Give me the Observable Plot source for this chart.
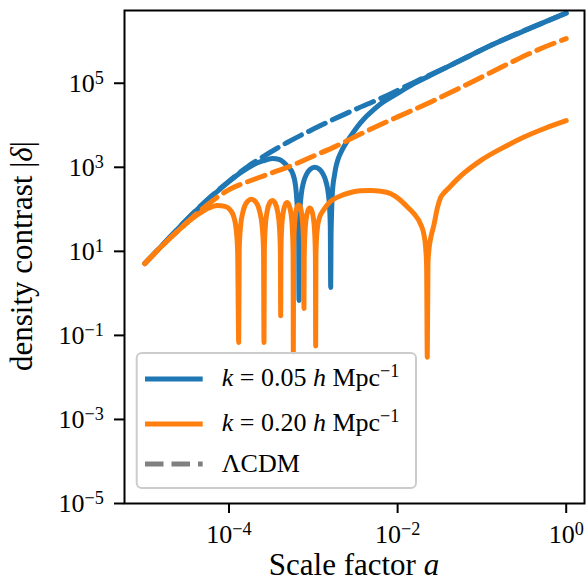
<!DOCTYPE html>
<html><head><meta charset="utf-8">
<script src="https://cdn.jsdelivr.net/npm/d3@7"></script>
<script src="https://cdn.jsdelivr.net/npm/@observablehq/plot@0.6"></script>
<style>
body{margin:0;background:#fff;}
#chart{width:586px;height:581px;}
</style></head><body><div id="chart"></div>
<script>
// Data: pairs of [log10 a, log10 |delta|]
const blueSolid = [[-5.00,0.71],[-4.80,1.13],[-4.60,1.55],[-4.40,1.95],[-4.20,2.32],[-4.00,2.66],[-3.85,2.89],[-3.72,3.05],[-3.60,3.15],[-3.486,3.21],[-3.40,3.18],[-3.348,3.11],[-3.30,3.01],[-3.25,2.88],[-3.21,2.55],[-3.195,2.20],[-3.182,1.70],[-3.174,1.20],[-3.170,-0.17],
 [-3.166,1.50],[-3.159,1.97],[-3.144,2.34],[-3.114,2.66],[-3.076,2.85],[-3.038,2.95],[-2.982,3.00],[-2.926,2.95],[-2.888,2.85],[-2.850,2.66],[-2.820,2.34],[-2.805,1.97],[-2.798,1.50],[-2.794,0.14],
 [-2.790,1.30],[-2.785,1.80],[-2.778,2.25],[-2.765,2.60],[-2.75,2.80],[-2.735,2.98],[-2.705,3.20],[-2.676,3.34],[-2.62,3.55],[-2.557,3.74],[-2.48,3.96],[-2.40,4.15],[-2.30,4.34],[-2.20,4.51],[-2.00,4.76],[-1.807,4.99],[-1.609,5.19],[-1.40,5.40],[-1.214,5.58],[-0.897,5.90],[-0.54,6.21],[-0.25,6.46],[0,6.67]];

const blueLCDM = [[-5.00,0.71],[-4.80,1.13],[-4.60,1.55],[-4.40,1.96],[-4.20,2.33],[-4.00,2.67],[-3.85,2.91],[-3.72,3.10],[-3.60,3.25],[-3.45,3.43],[-3.31,3.59],[-3.15,3.76],[-3.00,3.91],[-2.794,4.11],[-2.50,4.38],[-2.20,4.64],[-1.807,5.02],[-1.40,5.40],[-0.897,5.90],[-0.54,6.22],[-0.25,6.46],[0,6.67]];

const orangeSolid = [[-5.00,0.71],[-4.80,1.12],[-4.60,1.50],[-4.45,1.76],[-4.336,1.92],[-4.24,2.03],[-4.14,2.09],[-4.05,2.07],[-3.98,1.97],[-3.94,1.80],[-3.915,1.52],[-3.898,1.00],[-3.885,-1.17],
 [-3.879,1.04],[-3.864,1.58],[-3.831,1.97],[-3.780,2.19],[-3.735,2.24],[-3.690,2.19],[-3.639,1.97],[-3.606,1.58],[-3.591,1.04],[-3.585,-1.17],
 [-3.581,1.01],[-3.571,1.55],[-3.549,1.94],[-3.516,2.16],[-3.486,2.21],[-3.456,2.16],[-3.423,1.94],[-3.401,1.55],[-3.391,1.01],[-3.387,-0.53],
 [-3.384,0.96],[-3.377,1.50],[-3.360,1.89],[-3.334,2.11],[-3.312,2.16],[-3.290,2.11],[-3.264,1.89],[-3.248,1.50],[-3.240,0.96],[-3.237,-1.40],
 [-3.234,0.90],[-3.228,1.44],[-3.214,1.83],[-3.193,2.05],[-3.174,2.10],[-3.155,2.05],[-3.134,1.83],[-3.120,1.44],[-3.114,0.90],[-3.111,-0.36],
 [-3.108,0.83],[-3.101,1.37],[-3.086,1.76],[-3.062,1.98],[-3.042,2.03],[-3.021,1.98],[-2.997,1.76],[-2.982,1.37],[-2.975,0.83],[-2.972,-1.25],
 [-2.969,0.90],[-2.962,1.30],[-2.950,1.58],[-2.930,1.78],[-2.877,1.99],[-2.80,2.18],[-2.711,2.29],[-2.557,2.40],[-2.44,2.44],[-2.32,2.445],[-2.20,2.43],[-2.08,2.37],[-1.98,2.24],[-1.88,2.05],[-1.80,1.88],[-1.728,1.65],[-1.688,1.40],[-1.668,1.10],[-1.656,0.65],[-1.648,-1.52],
 [-1.640,0.70],[-1.628,1.05],[-1.609,1.30],[-1.570,1.62],[-1.53,2.02],[-1.49,2.28],[-1.45,2.39],[-1.411,2.47],[-1.30,2.70],[-1.214,2.86],[-1.016,3.16],[-0.70,3.52],[-0.50,3.72],[-0.25,3.93],[0,4.11]];

const orangeLCDM = [[-5.00,0.71],[-4.80,1.12],[-4.60,1.50],[-4.45,1.78],[-4.275,2.08],[-4.13,2.30],[-3.98,2.49],[-3.80,2.64],[-3.53,2.84],[-3.21,3.08],[-3.03,3.24],[-2.755,3.48],[-2.40,3.83],[-2.00,4.20],[-1.60,4.56],[-1.25,4.90],[-0.90,5.25],[-0.60,5.55],[-0.33,5.80],[0,6.06]];

const xTicks = [1e-4, 1e-2, 1];
const yTicks = [1e-5, 1e-3, 1e-1, 1e1, 1e3, 1e5];
const legendLabels = ["k = 0.05 h Mpc^−1", "k = 0.20 h Mpc^−1", "ΛCDM"];
const BLUE = "#1f77b4", ORANGE = "#ff7f0e", GREY = "#808080";

const FONT = '"Liberation Serif","Times New Roman",serif';
const toRows = arr => arr.map(([la, ld]) => ({a: 10 ** la, d: 10 ** ld}));
const expLabel = v => "10|" + String(Math.round(Math.log10(v))).replace("-", "\u2212");
const LW = 5, DASH = "18.5,8";

const chart = Plot.plot({
  width: 586, height: 581,
  marginLeft: 124, marginRight: 2, marginTop: 10, marginBottom: 78,
  style: {fontFamily: FONT, fontSize: "26px", background: "white", color: "black"},
  x: {type: "log", domain: [10 ** -5.24, 10 ** 0.217], label: null},
  y: {type: "log", domain: [1e-5, 10 ** 6.731], label: null},
  marks: [
    Plot.line(toRows(blueSolid), {x: "a", y: "d", stroke: BLUE, strokeWidth: LW, strokeLinejoin: "round", curve: "monotone-x"}),
    Plot.line(toRows(blueLCDM), {x: "a", y: "d", stroke: BLUE, strokeWidth: LW, strokeDasharray: DASH, curve: "monotone-x"}),
    Plot.line(toRows(orangeSolid), {x: "a", y: "d", stroke: ORANGE, strokeWidth: LW, strokeLinejoin: "round", curve: "monotone-x"}),
    Plot.line(toRows(orangeLCDM), {x: "a", y: "d", stroke: ORANGE, strokeWidth: LW, strokeDasharray: DASH, curve: "monotone-x"}),
    Plot.axisX({ticks: xTicks, tickSize: 10, tickPadding: 11.5, tickFormat: expLabel, fontSize: 26, strokeWidth: 2, label: null}),
    Plot.axisY({ticks: yTicks, tickSize: 10, tickPadding: 10.6, tickFormat: expLabel, fontSize: 26, strokeWidth: 2, label: null}),
    Plot.frame({stroke: "black", strokeWidth: 2})
  ]
});
document.getElementById("chart").append(chart);

const svg = d3.select(chart);
// Rebuild tick labels with superscript exponents
svg.selectAll('g[aria-label="x-axis tick label"] text, g[aria-label="y-axis tick label"] text').each(function () {
  const t = d3.select(this);
  const [base, exp] = this.textContent.split("|");
  t.text(null);
  t.append("tspan").text(base);
  t.append("tspan").attr("font-size", "18.2px").attr("dy", "-8px").text(exp);
});

// Axis titles
const xl = svg.append("text").attr("x", 354).attr("y", 575).attr("text-anchor", "middle")
  .attr("font-family", FONT).attr("font-size", 31).attr("fill", "black");
xl.append("tspan").text("Scale factor ");
xl.append("tspan").attr("font-style", "italic").text("a");

const yl = svg.append("text").attr("transform", "translate(32,256) rotate(-90)").attr("text-anchor", "middle")
  .attr("font-family", FONT).attr("font-size", 31).attr("fill", "black");
yl.append("tspan").text("density contrast |");
yl.append("tspan").attr("font-style", "italic").text("δ");
yl.append("tspan").text("|");

// Legend
const lg = svg.append("g").attr("font-family", FONT).attr("font-size", 26).attr("fill", "black").attr("text-anchor", "start");
lg.append("rect").attr("x", 136.7).attr("y", 353).attr("width", 279.3).attr("height", 135).attr("rx", 5)
  .attr("fill", "white").attr("fill-opacity", 0.8).attr("stroke", "#cccccc").attr("stroke-width", 2);
const rows = [
  {y: 379, base: 385.5, color: BLUE, dash: null},
  {y: 424, base: 430.7, color: ORANGE, dash: null},
  {y: 464, base: 471.7, color: GREY, dash: DASH}
];
rows.forEach((r, i) => {
  const ln = lg.append("line").attr("x1", 145).attr("x2", 202.7).attr("y1", r.y).attr("y2", r.y)
    .attr("stroke", r.color).attr("stroke-width", LW);
  if (r.dash) ln.attr("stroke-dasharray", r.dash);
  const t = lg.append("text").attr("x", 221.7).attr("y", r.base).attr("text-anchor", "start");
  const lab = legendLabels[i];
  if (lab.startsWith("k")) {
    const m = lab.match(/^k = ([0-9.]+) h Mpc\^(.+)$/);
    t.append("tspan").attr("font-style", "italic").text("k");
    t.append("tspan").text(" = " + m[1] + " ");
    t.append("tspan").attr("font-style", "italic").text("h");
    t.append("tspan").text(" Mpc");
    t.append("tspan").attr("font-size", "18.2px").attr("dy", "-9px").text(m[2]);
  } else {
    t.text(lab);
  }
});
</script>
</body></html>
